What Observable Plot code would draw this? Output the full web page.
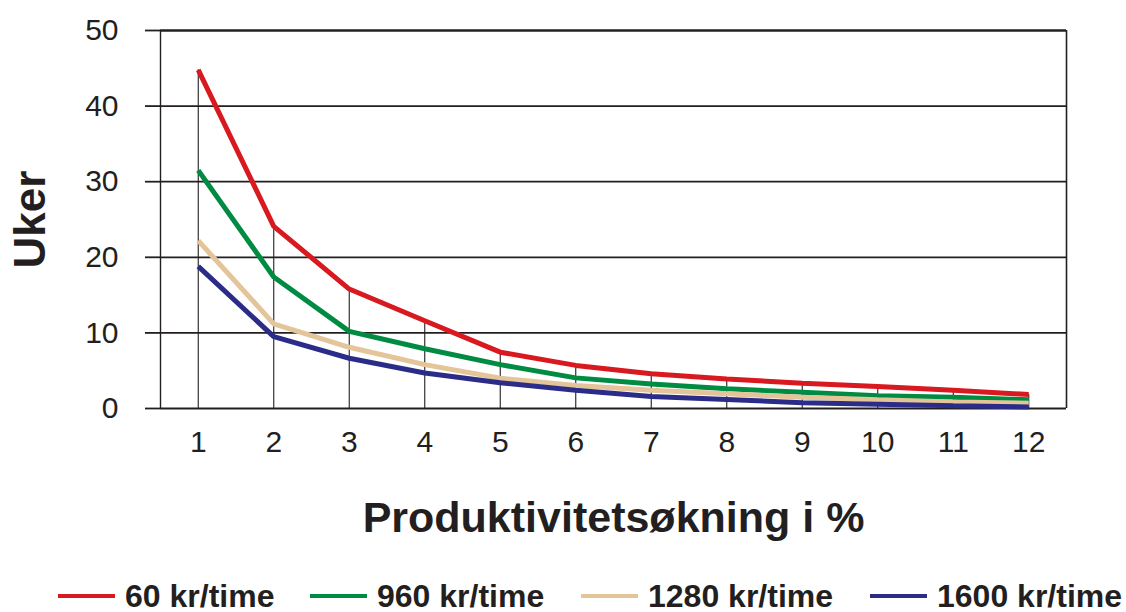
<!DOCTYPE html>
<html>
<head>
<meta charset="utf-8">
<script src="https://cdn.jsdelivr.net/npm/d3@7"></script>
<script src="https://cdn.jsdelivr.net/npm/@observablehq/plot@0.6"></script>
<style>
  body { margin: 0; background: #fff; font-family: "Liberation Sans", Arial, sans-serif; }
  #legend { height: 37px; position: relative; }
  .item { position: absolute; top: 5px; display: flex; align-items: center; font-weight: bold; font-size: 32px; line-height: 32px; color: #231f20; }
  .sw { width: 57px; height: 4px; margin-right: 10px; }
</style>
</head>
<body>
<div id="chart"></div>
<div id="legend"></div>
<script>
const xValues = [1, 2, 3, 4, 5, 6, 7, 8, 9, 10, 11, 12];
const seriesNames = ["60 kr/time", "960 kr/time", "1280 kr/time", "1600 kr/time"];
const seriesColors = ["#d81920", "#008b43", "#e4c499", "#2b2c88"];
const red60 = [44.8, 24.1, 15.8, 11.6, 7.45, 5.7, 4.6, 3.9, 3.35, 2.9, 2.4, 1.85];
const green960 = [31.5, 17.4, 10.2, 7.9, 5.8, 4.05, 3.25, 2.6, 2.15, 1.7, 1.5, 1.15];
const tan1280 = [22.2, 11.2, 8.1, 5.8, 4.0, 3.05, 2.4, 1.95, 1.5, 1.15, 0.85, 0.7];
const blue1600 = [18.8, 9.5, 6.65, 4.7, 3.4, 2.4, 1.6, 1.2, 0.75, 0.55, 0.35, 0.2];
const yTicks = [0, 10, 20, 30, 40, 50];
const xLabel = "Produktivitetsøkning i %";
const yLabel = "Uker";

const seriesValues = [red60, green960, tan1280, blue1600];
const data = seriesValues.flatMap((vals, i) => vals.map((v, j) => ({x: xValues[j], y: v, s: seriesNames[i]})));
const drops = xValues.map((x, j) => ({x, top: Math.max(...seriesValues.map(v => v[j]))}));

const ink = "#231f20";
const chart = Plot.plot({
  width: 1126,
  height: 575,
  marginLeft: 160,
  marginRight: 60,
  marginTop: 30,
  marginBottom: 167,
  style: {fontFamily: "Liberation Sans, Arial, sans-serif", color: ink, background: "#fff"},
  x: {domain: [0.5, 12.5]},
  y: {domain: [0, 50]},
  color: {domain: seriesNames, range: seriesColors},
  marks: [
    Plot.ruleY(yTicks.filter(d => d < 50), {stroke: ink, strokeWidth: 1.8}),
    Plot.ruleY([50], {stroke: ink, strokeWidth: 2.6}),
    Plot.ruleX([0.5], {stroke: ink, strokeWidth: 1.4}),
    Plot.ruleX([12.5], {stroke: ink, strokeWidth: 1.6}),
    Plot.ruleX(drops, {x: "x", y1: 0, y2: "top", stroke: ink, strokeWidth: 1.1}),
    Plot.axisY(yTicks, {tickSize: 15, tickPadding: 27, stroke: ink, strokeWidth: 1.8, fontSize: 30, fill: ink, label: null}),
    Plot.axisX(xValues, {tickSize: 0, tickPadding: 22, fontSize: 30, fill: ink, label: null}),
    Plot.line(data, {x: "x", y: "y", z: "s", stroke: "s", strokeWidth: 5, strokeLinejoin: "miter", strokeLinecap: "butt"}),
    Plot.text([xLabel], {frameAnchor: "bottom", dy: 110, lineAnchor: "middle", fontSize: 43, fontWeight: "bold", fill: ink}),
    Plot.text([yLabel], {frameAnchor: "left", dx: -130, rotate: -90, lineAnchor: "middle", textAnchor: "middle", fontSize: 44, fontWeight: "bold", fill: ink})
  ]
});
document.getElementById("chart").appendChild(chart);

const lefts = [58, 310, 581, 870];
const legend = document.getElementById("legend");
seriesNames.forEach((name, i) => {
  const item = document.createElement("div");
  item.className = "item";
  item.style.left = lefts[i] + "px";
  const sw = document.createElement("span");
  sw.className = "sw";
  sw.style.background = seriesColors[i];
  const t = document.createElement("span");
  t.textContent = name;
  item.appendChild(sw);
  item.appendChild(t);
  legend.appendChild(item);
});
</script>
</body>
</html>
